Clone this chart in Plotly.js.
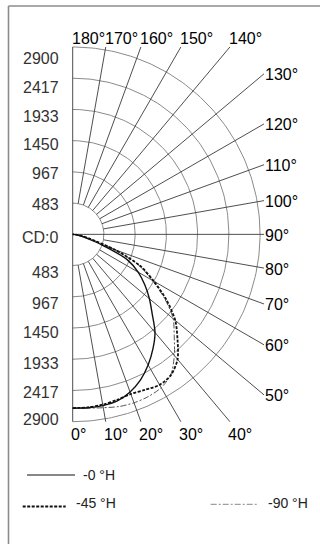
<!DOCTYPE html>
<html>
<head>
<meta charset="utf-8">
<script src="https://cdn.plot.ly/plotly-3.0.1.min.js"></script>
<style>html,body{margin:0;padding:0;background:#fff;}#chart{width:320px;height:544px;}</style>
</head>
<body>
<div id="chart"></div>
<script>
// ---- data ----
const gammaAngles = [0,5,10,15,20,25,30,35,40,45,50,55,60,65,70,75,80,85,90];
const intensity0H  = [2690,2695,2692,2670,2596,2485,2335,2165,1982,1740,1550,1362,1170,935,486,200,100,40,0];
const intensity45H = [2690,2688,2677,2652,2630,2655,2690,2655,2525,2294,2073,1772,1449,1149,696,290,140,50,0];
const intensity90H = [2690,2700,2725,2760,2775,2770,2740,2649,2448,2222,2030,1740,1420,1125,680,300,140,50,0];
const seriesNames = ['-0 °H','-45 °H','-90 °H'];
const ringValues = [483, 967, 1450, 1933, 2417, 2900];
const ringLabels = ['2900','2417','1933','1450','967','483','CD:0','483','967','1450','1933','2417','2900'];
const spokeAngles = [0,10,20,30,40,50,60,70,80,90,100,110,120,130,140,150,160,170,180];

// ---- layout geometry ----
const W = 320, H = 544;
const CX = 72.7, CY = 234.35;
const RMAX = 2900;
const K = 187.35 / RMAX;            // px per cd
const XMAX = (264 - CX) / K;        // right edge of spoke box, in cd
const xRange = [-200, 3400], yRange = [-3200, 3200];
const xDom = [(CX + xRange[0]*K)/W, (CX + xRange[1]*K)/W];
const yDom = [1 - (CY - yRange[0]*K)/H, 1 - (CY - yRange[1]*K)/H];
const px = x => x / W;
const py = y => 1 - y / H;
const rad = d => d * Math.PI / 180;
const pol = (r, a) => [r * Math.sin(rad(a)), -r * Math.cos(rad(a))];

const traces = [];
// rings
{
  const x = [], y = [];
  ringValues.forEach(r => {
    for (let a = 0; a <= 180; a += 1) { const p = pol(r, a); x.push(p[0]); y.push(p[1]); }
    x.push(null); y.push(null);
  });
  traces.push({x, y, mode:'lines', line:{color:'#8a8a8a', width:1}, hoverinfo:'skip', showlegend:false});
}
// spokes
const spokeEnds = {};
{
  const x = [], y = [];
  spokeAngles.forEach(a => {
    const s = Math.sin(rad(a)), c = Math.abs(Math.cos(rad(a)));
    const rEnd = Math.min(s > 1e-9 ? XMAX / s : Infinity, c > 1e-9 ? RMAX / c : Infinity);
    const rStart = (a === 0 || a === 90 || a === 180) ? 0 : ringValues[0];
    const p0 = pol(rStart, a), p1 = pol(rEnd, a);
    spokeEnds[a] = p1;
    x.push(p0[0], p1[0], null); y.push(p0[1], p1[1], null);
  });
  traces.push({x, y, mode:'lines', line:{color:'#3a3a3a', width:0.9}, hoverinfo:'skip', showlegend:false});
}
// photometric curves
function curve(vals, name, line) {
  const x = [], y = [];
  gammaAngles.forEach((a, i) => { const p = pol(vals[i], a); x.push(p[0]); y.push(p[1]); });
  return {x, y, name, mode:'lines', line: Object.assign({shape:'spline', smoothing:0.8}, line), hoverinfo:'skip', showlegend:false};
}
traces.push(curve(intensity90H, seriesNames[2], {color:'#555', width:1, dash:'6px,2px,2px,2px'}));
traces.push(curve(intensity45H, seriesNames[1], {color:'#111', width:1.8, dash:'3px,1.5px'}));
traces.push(curve(intensity0H,  seriesNames[0], {color:'#111', width:1.4}));

// annotations
const annotations = [];
const labelPix = [58.3, 87, 116, 144.7, 173.3, 204, 237, 272.5, 303.3, 332, 363.7, 392, 419];
ringLabels.forEach((t, i) => annotations.push({
  text: t, xref:'paper', yref:'paper', x: px(61), y: py(labelPix[i]), xanchor:'right', yanchor:'middle',
  showarrow:false, font:{family:'"Liberation Sans", Arial, sans-serif', size:16, color:'#333'}
}));
const angFont = {family:'"Liberation Sans", Arial, sans-serif', size:16, color:'#000'};
spokeAngles.forEach(a => {
  const e = spokeEnds[a];
  const ann = {text: a + '°', xref:'x', yref:'y', x: e[0], y: e[1], showarrow:false, font: angFont, yanchor:'middle'};
  if (e[1] >= RMAX - 1) { ann.xanchor = 'left'; ann.xshift = -3; ann.yshift = 8; }
  else if (e[1] <= -RMAX + 1) { ann.xanchor = 'left'; ann.xshift = -4; ann.yshift = -12.5; }
  else { ann.xanchor = 'left'; ann.xshift = -1; ann.yshift = -1; }
  annotations.push(ann);
});
const legFont = {family:'"Liberation Sans", Arial, sans-serif', size:14, color:'#222'};
annotations.push({text: seriesNames[0], xref:'paper', yref:'paper', x: px(81), y: py(475.3), xanchor:'left', yanchor:'middle', showarrow:false, font:legFont});
annotations.push({text: seriesNames[1], xref:'paper', yref:'paper', x: px(74), y: py(503), xanchor:'left', yanchor:'middle', showarrow:false, font:legFont});
annotations.push({text: seriesNames[2], xref:'paper', yref:'paper', x: px(266), y: py(503), xanchor:'left', yanchor:'middle', showarrow:false, font:legFont});

const shapes = [
  {type:'line', xref:'paper', yref:'paper', x0:px(8.5), y0:py(6), x1:px(8.5), y1:py(560), line:{color:'#8c8c8c', width:1.6}},
  {type:'line', xref:'paper', yref:'paper', x0:px(8.5), y0:py(6), x1:px(330), y1:py(6), line:{color:'#8c8c8c', width:1.6}},
  {type:'line', xref:'paper', yref:'paper', x0:px(27), y0:py(475), x1:px(75), y1:py(475), line:{color:'#111', width:1}},
  {type:'line', xref:'paper', yref:'paper', x0:px(22.7), y0:py(506.5), x1:px(65.7), y1:py(506.5), line:{color:'#111', width:2, dash:'3px,1.5px'}},
  {type:'line', xref:'paper', yref:'paper', x0:px(210.7), y0:py(504.3), x1:px(258), y1:py(504.3), line:{color:'#888', width:1, dash:'6px,2px,2px,2px'}}
];

const layout = {
  width: W, height: H, margin:{l:0, r:0, t:0, b:0},
  paper_bgcolor:'#fff', plot_bgcolor:'rgba(0,0,0,0)',
  xaxis:{domain:xDom, range:xRange, visible:false, fixedrange:true},
  yaxis:{domain:yDom, range:yRange, visible:false, fixedrange:true},
  showlegend:false, annotations, shapes
};
Plotly.newPlot('chart', traces, layout, {staticPlot:true, displayModeBar:false});
</script>
</body>
</html>
